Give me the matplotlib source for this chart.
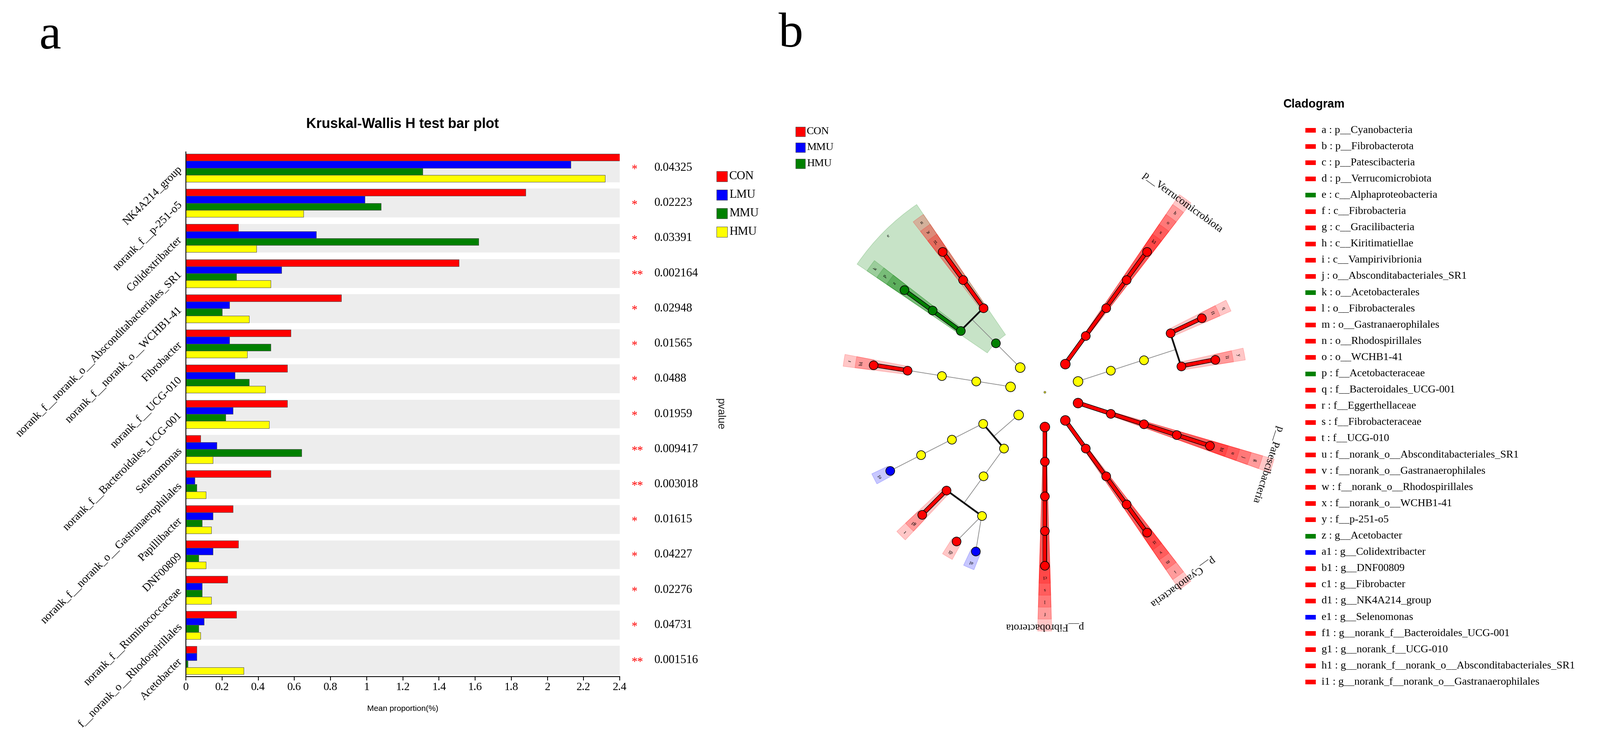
import numpy as np
import matplotlib
matplotlib.use("Agg")
import matplotlib.pyplot as plt
import matplotlib.patheffects as pe
from matplotlib.patches import Rectangle

W, H, DPI = 4149, 1935, 100

# ---------------- panel a : Kruskal-Wallis H test bar plot
taxa = ["NK4A214_group", "norank_f__p-251-o5", "Colidextribacter",
        "norank_f__norank_o__Absconditabacteriales_SR1", "norank_f__norank_o__WCHB1-41",
        "Fibrobacter", "norank_f__UCG-010", "norank_f__Bacteroidales_UCG-001",
        "Selenomonas", "norank_f__norank_o__Gastranaerophilales", "Papillibacter",
        "DNF00809", "norank_f__Ruminococcaceae", "f__norank_o__Rhodospirillales",
        "Acetobacter"]
groups = ["CON", "LMU", "MMU", "HMU"]
con = [2.40, 1.88, 0.29, 1.51, 0.86, 0.58, 0.56, 0.56, 0.08, 0.47, 0.26, 0.29, 0.23, 0.28, 0.06]
lmu = [2.13, 0.99, 0.72, 0.53, 0.24, 0.24, 0.27, 0.26, 0.17, 0.05, 0.15, 0.15, 0.09, 0.10, 0.06]
mmu = [1.31, 1.08, 1.62, 0.28, 0.20, 0.47, 0.35, 0.22, 0.64, 0.06, 0.09, 0.07, 0.09, 0.07, 0.01]
hmu = [2.32, 0.65, 0.39, 0.47, 0.35, 0.34, 0.44, 0.46, 0.15, 0.11, 0.14, 0.11, 0.14, 0.08, 0.32]
pvals = ["0.04325", "0.02223", "0.03391", "0.002164", "0.02948", "0.01565", "0.0488",
         "0.01959", "0.009417", "0.003018", "0.01615", "0.04227", "0.02276", "0.04731",
         "0.001516"]

# ---------------- panel b : LEfSe cladogram
clade_key = ["a", "b", "c", "d", "e", "f", "g", "h", "i", "j", "k", "l", "m", "n", "o",
             "p", "q", "r", "s", "t", "u", "v", "w", "x", "y", "z",
             "a1", "b1", "c1", "d1", "e1", "f1", "g1", "h1", "i1"]
clade_name = ["p__Cyanobacteria", "p__Fibrobacterota", "p__Patescibacteria",
              "p__Verrucomicrobiota", "c__Alphaproteobacteria", "c__Fibrobacteria",
              "c__Gracilibacteria", "c__Kiritimatiellae", "c__Vampirivibrionia",
              "o__Absconditabacteriales_SR1", "o__Acetobacterales", "o__Fibrobacterales",
              "o__Gastranaerophilales", "o__Rhodospirillales", "o__WCHB1-41",
              "f__Acetobacteraceae", "f__Bacteroidales_UCG-001", "f__Eggerthellaceae",
              "f__Fibrobacteraceae", "f__UCG-010", "f__norank_o__Absconditabacteriales_SR1",
              "f__norank_o__Gastranaerophilales", "f__norank_o__Rhodospirillales",
              "f__norank_o__WCHB1-41", "f__p-251-o5", "g__Acetobacter",
              "g__Colidextribacter", "g__DNF00809", "g__Fibrobacter", "g__NK4A214_group",
              "g__Selenomonas", "g__norank_f__Bacteroidales_UCG-001", "g__norank_f__UCG-010",
              "g__norank_f__norank_o__Absconditabacteriales_SR1",
              "g__norank_f__norank_o__Gastranaerophilales"]
clade_grp = ["CON", "CON", "CON", "CON", "HMU", "CON", "CON", "CON", "CON", "CON", "HMU",
             "CON", "CON", "CON", "CON", "HMU", "CON", "CON", "CON", "CON", "CON", "CON",
             "CON", "CON", "CON", "HMU", "MMU", "CON", "CON", "CON", "MMU", "CON", "CON",
             "CON", "CON"]
clado_groups = ["CON", "MMU", "HMU"]

# tree nodes: label ('' = not significant), angle (deg), taxonomic level, parent, group
node_key = ["d", "", "c", "a", "b", "", "", "",
            "h", "o", "x", "k1",
            "", "", "q", "f1", "y", "l1",
            "g", "j", "u", "h1",
            "i", "m", "v", "i1",
            "f", "l", "s", "c1",
            "", "", "", "e1", "", "", "t", "g1", "", "d1", "a1",
            "", "", "r", "b1",
            "e", "k", "p", "z", "n", "w", "j1"]
node_ang = [54, 18, -18, -54, -90, 221, 171, 135,
            54, 54, 54, 54,
            18, 18, 25.2, 25.2, 10.8, 10.8,
            -18, -18, -18, -18,
            -54, -54, -54, -54,
            -90, -90, -90, -90,
            207, 207, 207, 207, 234, 234, 225, 225, 243, 239.4, 246.6,
            171, 171, 171, 171,
            135, 144, 144, 144, 126, 126, 126]
node_lvl = [1, 1, 1, 1, 1, 1, 1, 1,
            2, 3, 4, 5,
            2, 3, 4, 5, 4, 5,
            2, 3, 4, 5,
            2, 3, 4, 5,
            2, 3, 4, 5,
            2, 3, 4, 5, 2, 3, 4, 5, 4, 5, 5,
            2, 3, 4, 5,
            2, 3, 4, 5, 3, 4, 5]
node_par = [-1, -1, -1, -1, -1, -1, -1, -1,
            0, 8, 9, 10,
            1, 12, 13, 14, 13, 16,
            2, 18, 19, 20,
            3, 22, 23, 24,
            4, 26, 27, 28,
            5, 30, 31, 32, 5, 34, 35, 36, 35, 38, 38,
            6, 41, 42, 43,
            7, 45, 46, 47, 45, 49, 50]
node_grp = ["CON", "ns", "CON", "CON", "CON", "ns", "ns", "ns",
            "CON", "CON", "CON", "CON",
            "ns", "ns", "CON", "CON", "CON", "CON",
            "CON", "CON", "CON", "CON",
            "CON", "CON", "CON", "CON",
            "CON", "CON", "CON", "CON",
            "ns", "ns", "ns", "MMU", "ns", "ns", "CON", "CON", "ns", "CON", "MMU",
            "ns", "ns", "CON", "CON",
            "HMU", "HMU", "HMU", "HMU", "CON", "CON", "CON"]

bar_col = {"CON": "#ff0000", "LMU": "#0000ff", "MMU": "#008000", "HMU": "#ffff00"}
cl_col = {"CON": "#ff0000", "MMU": "#0000ff", "HMU": "#008000", "ns": "#ffff00"}

plt.rcParams["font.family"] = ["Liberation Serif", "DejaVu Serif"]
SANS = ["Liberation Sans", "DejaVu Sans"]

fig = plt.figure(figsize=(W / DPI, H / DPI), dpi=DPI)

# ===================== panel a =====================
ax = fig.add_axes([482 / W, 1 - 1755 / H, 1125 / W, 1361 / H])
n = len(taxa)
y = np.arange(n)
for k in range(n):
    ax.axhspan(k - 0.41, k + 0.41, color="#ededed", lw=0, zorder=0)
for vals, g, off in zip([con, lmu, mmu, hmu], groups, [-0.3, -0.1, 0.1, 0.3]):
    ax.barh(y + off, vals, height=0.2, color=bar_col[g], edgecolor="#555555",
            linewidth=0.8, label=g, zorder=2)
ax.set_xlim(0, 2.4)
ax.set_ylim(n - 1 + 0.465, -0.455)
xt = np.arange(0, 2.41, 0.2)
ax.set_xticks(xt)
ax.set_xticklabels([f"{t:g}" for t in xt], fontsize=21)
ax.set_yticks(y)
ax.set_yticklabels(taxa, rotation=45, ha="right", va="center",
                   rotation_mode="anchor", fontsize=21)
ax.tick_params(axis="y", length=0, pad=10)
ax.tick_params(axis="x", length=7, width=1.5, pad=4, direction="out")
for s in ["top", "right"]:
    ax.spines[s].set_visible(False)
for s in ["left", "bottom"]:
    ax.spines[s].set_linewidth(1.6)

# significance marks and p-values right of the plot
for k, p in enumerate(pvals):
    star = "**" if float(p) < 0.01 else "*"
    ax.text(2.466, k + 0.06, star, color="red", fontsize=22, ha="left", va="center",
            clip_on=False)
    ax.text(2.592, k, p, fontsize=22, ha="left", va="center", clip_on=False)

# ===================== panel b : cladogram =====================
cx, cy, R = 2709, 1017, 700
pax = fig.add_axes([(cx - R) / W, 1 - (cy + R) / H, 2 * R / W, 2 * R / H],
                   projection="polar")
pax.set_ylim(0, R)
pax.set_axis_off()

STEP = 90          # radius per taxonomic level (px)


def seg(a1, r1, a2, r2, **kw):
    z = np.linspace(r1 * np.exp(1j * np.deg2rad(a1)), r2 * np.exp(1j * np.deg2rad(a2)), 40)
    pax.plot(np.unwrap(np.angle(z)), np.abs(z), **kw)


kids = {i: [j for j, p in enumerate(node_par) if p == i] for i in range(len(node_par))}


def leaves(i):
    if not kids[i]:
        return [node_ang[i]]
    out = []
    for j in kids[i]:
        out += leaves(j)
    return out


thick = dict(solid_capstyle="butt", zorder=3,
             path_effects=[pe.Stroke(linewidth=8.2, foreground="black"), pe.Normal()])
gray = dict(color="#8a8a8a", lw=1.3, zorder=2)

for i, ch in kids.items():
    if not ch:
        continue
    ai, ri = node_ang[i], STEP * node_lvl[i]
    rc = STEP * node_lvl[ch[0]]
    if len(ch) == 1:
        j = ch[0]
        if node_grp[i] != "ns" and node_grp[i] == node_grp[j]:
            seg(ai, ri, node_ang[j], rc, color=cl_col[node_grp[j]], lw=6, **thick)
        else:
            seg(ai, ri, node_ang[j], rc, **gray)
    else:
        angs = [node_ang[j] for j in ch]
        half = (max(angs) - min(angs)) / 2
        if half > 5:
            seg(ai, ri, ai, rc * np.cos(np.deg2rad(half)), **gray)
            seg(min(angs), rc, max(angs), rc, color="#111111", lw=3.3, zorder=3,
                solid_capstyle="round")
        else:
            for j in ch:
                seg(ai, ri, node_ang[j], rc, **gray)

# shaded clade sectors, letters and phylum names
name_of = dict(zip(clade_key, clade_name))
for i, key in enumerate(node_key):
    if node_grp[i] == "ns":
        continue
    lv = node_lvl[i]
    la = leaves(i)
    a0, a1 = min(la) - 1.7, max(la) + 1.7
    r_in, r_out = STEP * lv, 465 + (6 - lv) * 31
    c = cl_col[node_grp[i]]
    pax.bar(np.deg2rad((a0 + a1) / 2), r_out - r_in, width=np.deg2rad(a1 - a0),
            bottom=r_in, color=c, alpha=0.22, edgecolor=c, linewidth=1.0, zorder=1)
    am = np.deg2rad(node_ang[i])
    if lv == 1:
        pax.text(am, 608, name_of[key], fontsize=20, rotation=node_ang[i] - 90,
                 rotation_mode="anchor", ha="center", va="center", zorder=6)
    else:
        pax.text(am, r_out - 15.5, key, fontsize=9, rotation=node_ang[i] - 90,
                 rotation_mode="anchor", ha="center", va="center", zorder=6)

for i in range(len(node_key)):
    ms = 18 if node_lvl[i] == 1 else 16.5
    pax.plot(np.deg2rad(node_ang[i]), STEP * node_lvl[i], "o", ms=ms,
             mfc=cl_col[node_grp[i]], mec="black", mew=1.2, zorder=5)
pax.plot(0, 0, "o", ms=4, mfc="#b8b820", mec="#555555", mew=0.6, zorder=5)

# ===================== overlay (pixel coordinates) =====================
ov = fig.add_axes([0, 0, 1, 1])
ov.set_xlim(0, W)
ov.set_ylim(H, 0)
ov.set_axis_off()

ov.text(130, 95, "a", fontsize=92, ha="center", va="center")
ov.text(2051, 90, "b", fontsize=92, ha="center", va="center")

ov.text(1044, 322, "Kruskal-Wallis H test bar plot", family=SANS, weight="bold",
        fontsize=26, ha="center", va="center")
ov.text(1044, 1838, "Mean proportion(%)", family=SANS, fontsize=15,
        ha="center", va="center")
ov.text(1867, 1074, "pvalue", family=SANS, fontsize=20, rotation=-90,
        ha="center", va="center", color="#222222")

# panel a legend
for k, g in enumerate(groups):
    yc = 457 + 48 * k
    ov.add_patch(Rectangle((1858, yc - 13), 28, 27, facecolor=bar_col[g],
                           edgecolor="#555555", lw=0.8))
    ov.text(1891, yc, g, fontsize=22, ha="left", va="center")

# panel b group legend
for k, g in enumerate(clado_groups):
    yc = 341 + 41.5 * k
    ov.add_patch(Rectangle((2063, yc - 12.5), 25, 25, facecolor=cl_col[g],
                           edgecolor="#555555", lw=0.8))
    ov.text(2092, yc, g, fontsize=20, ha="left", va="center")

# cladogram key list
ov.text(3328, 271, "Cladogram", family=SANS, weight="bold", fontsize=22,
        ha="left", va="center")
for k, (key, name, g) in enumerate(zip(clade_key, clade_name, clade_grp)):
    yc = 338 + 42.1 * k
    ov.add_patch(Rectangle((3385, yc - 6), 27, 12, facecolor=cl_col[g], lw=0))
    ov.text(3427, yc, f"{key} : {name}", fontsize=20, ha="left", va="center")

fig.savefig("out.png", dpi=DPI)
